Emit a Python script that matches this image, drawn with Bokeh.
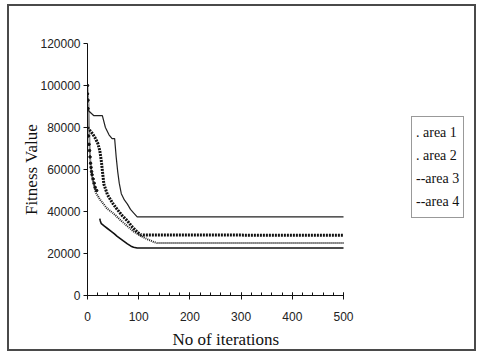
from bokeh.plotting import figure
from bokeh.models import (SingleIntervalTicker, BasicTickFormatter, Legend, LegendItem, Title)
from bokeh.embed import file_html
from bokeh.resources import INLINE

# ---- data ----
area1_iter = [0, 1, 2, 3, 4, 5, 6, 8, 10, 12, 16, 25, 38, 51, 64, 78, 90, 103, 117, 130, 136, 500]
area1_val = [99000, 95000, 91000, 80000, 72000, 66000, 62000, 58000, 55000, 53000, 49000, 45500,
             41500, 39000, 36000, 33000, 30500, 28500, 26800, 25400, 25000, 25000]

# scattered early dots of area 1
area1_dot_iter = [0, 0, 1, 1, 2, 3, 4, 5, 6, 7, 8, 9, 11, 13, 15, 18]
area1_dot_val = [100000, 96000, 93000, 89000, 76000, 72000, 69000, 66000, 63000, 61000, 59000,
                 57500, 55500, 53500, 51500, 50000]

area2_iter = [0, 5, 10, 15, 20, 24, 27, 29, 32, 39, 49, 58, 68, 78, 88, 98, 105, 500]
area2_val = [80000, 78500, 77000, 75000, 72500, 69000, 64000, 59500, 53000, 48000, 44000, 41000,
             38000, 35500, 32500, 30000, 28800, 28700]

area3_iter = [0, 2, 12, 29, 35, 42, 48, 53, 56, 59, 62, 66, 72, 78, 84, 90, 97, 500]
area3_val = [88500, 88000, 85700, 85700, 80000, 76500, 74700, 74700, 66000, 59000, 53500, 48500,
             45500, 43500, 41000, 39300, 37400, 37400]

area4_iter = [24, 25, 27, 33, 39, 45, 52, 58, 64, 70, 78, 85, 90, 97, 500]
area4_val = [36600, 35500, 34200, 33000, 31900, 30800, 29500, 28200, 27100, 26000, 24600, 23500,
             23000, 22600, 22600]

legend_labels = [". area 1", ". area 2", "--area 3", "--area 4"]
x_label = "No of iterations"
y_label = "Fitness Value"

SERIF = "'Liberation Serif', 'Times New Roman', serif"
SANS = "'Liberation Sans', Arial, sans-serif"

p = figure(width=469, height=347, x_range=(0, 748), y_range=(0, 120000),
           output_backend="svg", toolbar_location=None,
           min_border_left=78, min_border_right=8, min_border_top=37, min_border_bottom=58)
p.styles = {"margin-left": "7px", "margin-top": "4px", "border": "2px solid #4a4a4a"}
p.outline_line_color = None
p.xgrid.visible = False
p.ygrid.visible = False

# x axis
xa = p.xaxis[0]
xa.ticker = SingleIntervalTicker(interval=100, num_minor_ticks=5)
xa.bounds = (0, 500)
xa.major_tick_in = 3
xa.major_tick_out = 4
xa.minor_tick_in = 3
xa.minor_tick_out = 0
xa.major_label_standoff = 12
xa.major_label_text_font = SANS
xa.major_label_text_font_size = "12px"
xa.major_label_text_color = "#222222"
xa.axis_line_color = "#111111"
xa.major_tick_line_color = "#111111"
xa.minor_tick_line_color = "#111111"

# y axis
ya = p.yaxis[0]
ya.ticker = SingleIntervalTicker(interval=20000, num_minor_ticks=0)
ya.formatter = BasicTickFormatter(use_scientific=False)
ya.bounds = (0, 120000)
ya.major_tick_in = 0
ya.major_tick_out = 4
ya.minor_tick_line_color = None
ya.major_label_standoff = 3
ya.major_label_text_font = SANS
ya.major_label_text_font_size = "12px"
ya.major_label_text_color = "#222222"
ya.axis_label = y_label
ya.axis_label_text_font = SERIF
ya.axis_label_text_font_style = "normal"
ya.axis_label_text_font_size = "17px"
ya.axis_label_text_color = "#111111"
ya.axis_label_standoff = -4
ya.axis_line_color = "#111111"
ya.major_tick_line_color = "#111111"

# series
r3 = p.line(area3_iter, area3_val, line_color="#222222", line_width=1.2)
r4 = p.line(area4_iter, area4_val, line_color="#111111", line_width=1.6)
r2 = p.line(area2_iter, area2_val, line_color="#111111", line_width=3, line_dash="2 1")
r1 = p.line(area1_iter, area1_val, line_color="#222222", line_width=2, line_dash="1 1")
p.scatter(area1_dot_iter, area1_dot_val, size=2.5, color="#111111")

# x axis title
p.add_layout(Title(text=x_label, align="left", offset=85, text_font=SERIF,
                   text_font_size="17px", text_font_style="normal", text_color="#111111",
                   standoff=8), "below")

# legend (text-only box, as in the original)
legend = Legend(items=[LegendItem(label=legend_labels[0], renderers=[r1]),
                       LegendItem(label=legend_labels[1], renderers=[r2]),
                       LegendItem(label=legend_labels[2], renderers=[r3]),
                       LegendItem(label=legend_labels[3], renderers=[r4])],
                location=(324, 77), glyph_width=0, glyph_height=23, label_height=23,
                label_standoff=0, padding=4, spacing=0, margin=0,
                label_text_font=SERIF, label_text_font_size="14px", label_text_color="#111111",
                border_line_color="#333333", border_line_width=1.5,
                background_fill_alpha=0)
p.add_layout(legend, "center")

open("out.html", "w").write(file_html(p, INLINE))
